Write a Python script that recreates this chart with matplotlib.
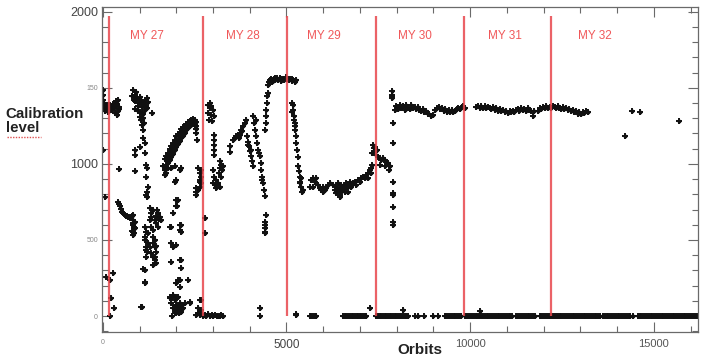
import matplotlib
matplotlib.use("Agg")
import matplotlib.pyplot as plt
import numpy as np
from matplotlib.ticker import MultipleLocator
from matplotlib.lines import Line2D

plt.rcParams['font.family'] = ['Liberation Sans', 'DejaVu Sans']

# ---------------- data (orbit, calibration level) ----------------
# MY27 start cluster
a_orb = [0, 10, 20, 30, 40, 60, 80, 100, 120, 140, 150, 170, 190, 210, 230, 250, 270, 290, 310, 330,
         350, 370, 390, 410, 430, 450, 60, 150, 260, 330, 400, 420,
         0, 60, 100, 190, 272, 236, 300, 190]
a_lvl = [1487, 1452, 1420, 1395, 1372, 1380, 1365, 1390, 1372, 1385, 1360, 1378, 1370, 1388, 1362, 1375,
         1380, 1392, 1368, 1400, 1385, 1412, 1395, 1420, 1375, 1360, 1350, 1340, 1355, 1335, 1322, 1345,
         1092, 785, 258, 237, 283, 118, 53, 0]

# MY27 high cluster (~orbit 800-1250)
b_orb = [800, 816, 843, 870, 880, 900, 930, 952, 980, 1006, 1030, 1061, 1088, 1115, 1140, 1170, 1197, 1224,
         870, 950, 1000, 1061, 1006, 1088, 1115, 1061, 1197, 1150, 1100, 1040, 1061, 1351,
         1097, 1097, 1142, 1025, 870, 870, 1161, 1188, 1206, 870, 1188, 444, 1224, 1197, 1210, 1188]
b_lvl = [1445, 1487, 1421, 1454, 1414, 1470, 1430, 1382, 1400, 1441, 1420, 1408, 1395, 1388, 1410, 1380, 1434, 1408,
         1360, 1350, 1340, 1375, 1310, 1303, 1270, 1336, 1370, 1355, 1330, 1290, 1257, 1334,
         1224, 1169, 1136, 1114, 1092, 1060, 1070, 994, 972, 950, 917, 965, 849, 816, 783, 796]

# MY27 low descending group (~700 -> 550)
c_orb = [408, 435, 462, 490, 517, 545, 570, 600, 630, 653, 680, 707, 734, 760, 790, 816, 816, 816, 840,
         800, 816, 870, 870, 830, 850, 825]
c_lvl = [750, 737, 720, 705, 684, 678, 671, 662, 660, 658, 654, 651, 645, 650, 655, 665, 632, 612, 586,
         560, 533, 620, 580, 600, 545, 555]

# MY27 scattered group (~orbit 1050-1600)
d_orb = [1279, 1369, 1505, 1551, 1596, 1324, 1279, 1415, 1460, 1324, 1369, 1505, 1233, 1142, 1233, 1279,
         1369, 1369, 1415, 1188, 1324, 1369, 1415, 1415, 1369, 1097, 1142, 1052, 1142, 1170, 1160, 1170,
         1197, 1170, 1414, 1440, 1450, 1414, 1440, 1142, 1142, 1061, 1460, 1530, 1480, 1300]
d_lvl = [709, 698, 676, 654, 632, 676, 632, 632, 610, 588, 566, 588, 544, 522, 478, 456,
         522, 478, 456, 435, 413, 391, 369, 347, 336, 307, 226, 62, 586, 553, 500, 454,
         421, 388, 500, 460, 421, 388, 349, 303, 217, 59, 660, 640, 700, 650]

# MY27 rising band (~orbit 1690-2560)
e_orb = [1687, 1732, 1778, 1823, 1868, 1914, 1959, 2004, 2050, 2095, 2140, 2186, 2231, 2277, 2322, 2367,
         2413, 2458, 2503]
e_up = [1029, 1051, 1073, 1095, 1116, 1138, 1160, 1182, 1198, 1212, 1228, 1240, 1252, 1264, 1273, 1282,
        1288, 1292, 1288]
e_mid = [994, 1016, 1038, 1060, 1081, 1103, 1125, 1147, 1163, 1180, 1198, 1213, 1228, 1242, 1253, 1264,
         1272, 1277, 1272]
e_low = [959, 981, 1003, 1025, 1046, 1068, 1090, 1112, 1128, 1148, 1168, 1186, 1204, 1220, 1233, 1246,
         1256, 1262, 1256]
e2_orb = [2549, 2549, 2567, 2530, 1687, 1778, 1732, 1868, 1959, 2095, 2004, 2140, 1700, 1650]
e2_lvl = [1246, 1202, 1158, 1230, 961, 972, 939, 972, 983, 961, 895, 972, 930, 985]

# MY27 low scatter (~orbit 1820-2400)
f_orb = [1960, 2005, 2005, 1914, 1824, 2141, 2141, 1869, 1914, 2005, 1869, 2141, 2141, 2096, 2005, 2323,
         2050, 1869, 1960, 2005, 2096, 2186, 2050, 2141, 1960, 1914, 2096, 2232, 2386, 1896, 1824, 1914,
         2005, 2050, 2022, 1868, 2095, 2095, 2004, 2367, 2095, 2050, 2095, 1841, 1868, 1959, 2050, 2120,
         2160, 2000, 2070]
f_lvl = [884, 763, 720, 676, 588, 599, 555, 478, 456, 467, 358, 369, 314, 237, 215, 237,
         127, 116, 105, 73, 62, 51, 40, 29, 29, 51, 84, 84, 84, 0, 116, 138,
         123, 764, 720, 588, 599, 566, 18, 95, 193, 237, 369, 127, 84, 62, 62, 40,
         70, 45, 20]

# around MY28 boundary
g_orb = [2531, 2531, 2640, 2685, 2685, 2640, 2594, 2640, 2640, 2640, 2549, 2594, 2776, 2794, 2595, 2685,
         2640, 2685, 2685,
         2550, 2600, 2640, 2690, 2730, 2780, 2820, 2870, 2910, 2960, 3000, 3050, 3100, 3140, 3190, 3230, 3275]
g_lvl = [840, 796, 884, 873, 105, 29, 972, 939, 895, 851, 818, 829, 647, 544, 51, 40,
         106, 961, 917,
         10, 20, 5, 15, 0, 8, 0, 12, 0, 5, 0, 8, 0, 3, 0, 5, 0]

# MY28
h_orb = [2865, 2910, 2955, 3001, 2865, 2955, 3019, 2892, 2983, 2910,
         3019, 3019, 3019, 3019, 3019, 3001, 3019, 3001,
         3182, 3228, 3273, 3182, 3255, 3164, 3228, 3092, 3137, 3182, 3092, 3046,
         3454, 3454,
         3545, 3590, 3636, 3681, 3726, 3772, 3817, 3862, 3908, 3745, 3799, 3708,
         3926, 3953, 3980, 3999, 4044, 4071, 4089, 4044, 3953,
         4089, 4116, 4135, 4162, 4198, 4225, 4271, 4298, 4316, 4343, 4361, 4379, 4407, 4180, 4252, 4325,
         4452, 4407, 4425, 4407, 4425, 4407,
         4407, 4434, 4452, 4452, 4470, 4479, 4497,
         4271, 4271, 5268]
h_lvl = [1389, 1367, 1378, 1356, 1334, 1323, 1312, 1290, 1279, 1400,
         1191, 1158, 1126, 1093, 1060, 961, 917, 873,
         1016, 994, 983, 972, 961, 939, 917, 895, 873, 851, 840, 862,
         1115, 1075,
         1158, 1169, 1180, 1191, 1202, 1224, 1246, 1268, 1290, 1191, 1213, 1169,
         1180, 1147, 1115, 1082, 1049, 1016, 983, 1093, 1126,
         1312, 1268, 1224, 1180, 1137, 1093, 1049, 1005, 961, 917, 873, 830, 786, 1290, 1071, 895,
         665, 621, 599, 577, 555, 544,
         1224, 1268, 1312, 1356, 1400, 1444, 1465,
         51, 0, 14]

# MY28 plateau
p_orb = [4490, 4520, 4555, 4590, 4625, 4660, 4700, 4740, 4780, 4820, 4860, 4900, 4940, 4980, 5020, 5060,
         5100, 5140, 5180, 5220, 5260, 4600, 4700, 4850, 5000, 5150]
p_lvl = [1520, 1540, 1548, 1556, 1545, 1560, 1552, 1562, 1550, 1565, 1555, 1560, 1550, 1562, 1556, 1548,
         1558, 1545, 1552, 1540, 1548, 1535, 1565, 1545, 1568, 1560]

# MY29
k_orb = [5177, 5177, 5195, 5222, 5240, 5267, 5267, 5286, 5313, 5195, 5222, 5140, 5150,
         5313, 5340, 5358, 5376, 5404, 5431, 5358, 5449, 5404,
         5630, 5676, 5721, 5766, 5812, 5857, 5902, 5948, 5993, 6038, 6084, 6129, 6174, 5721, 5993,
         6265, 6310, 6356, 6356, 6401, 6401, 6446, 6446, 6492, 6492, 6537, 6537, 6582, 6582, 6628, 6628,
         6673, 6673, 6719, 6719, 6764, 6809, 6855, 6900, 6446, 6356,
         6945, 6991, 7036, 7081, 7127, 7172, 7218, 7263, 7308, 7335, 7308, 7218,
         7354, 7372, 7399, 7426, 7335, 7462, 7399,
         7490, 7535, 7580, 7626, 7671, 7716, 7762, 7807, 7535, 7789, 7671,
         7900, 7900, 7900, 7900, 7900, 7900, 7900, 7900,
         7860, 7860, 7870, 7870]
k_lvl = [1388, 1355, 1312, 1268, 1224, 1180, 1136, 1092, 1048, 1290, 1246, 1400, 1340,
         983, 950, 917, 884, 851, 818, 873, 829, 906,
         851, 895, 906, 884, 906, 862, 840, 829, 851, 829, 840, 862, 873, 851, 818,
         862, 829, 851, 807, 873, 829, 840, 796, 862, 818, 851, 829, 862, 818, 840, 873,
         851, 818, 862, 884, 851, 873, 884, 862, 785, 829,
         895, 884, 906, 917, 906, 928, 939, 961, 972, 994, 939, 906,
         1125, 1103, 1081, 1059, 1070, 1092, 1114,
         1048, 1037, 1026, 1037, 1026, 1015, 1005, 983, 994, 961, 983,
         1270, 1138, 882, 809, 796, 717, 619, 599,
         1480, 1455, 1430, 1445]

# MY30-MY32 plateau
q_orb = [7945, 7990, 8035, 8080, 8125, 8170, 8215, 8260, 8305, 8350, 8395, 8440, 8485, 8530, 8575, 8620,
         8665, 8710, 8755, 8800, 8845, 8890, 8935, 8980,
         9050, 9095, 9140, 9185, 9230, 9275, 9320, 9365, 9410, 9455, 9500, 9545, 9590, 9635, 9680, 9725,
         9770, 9815, 9850]
q_lvl = [1352, 1378, 1360, 1385, 1368, 1380, 1356, 1384, 1370, 1362, 1386, 1366, 1377, 1358, 1372, 1355,
         1346, 1360, 1338, 1345, 1325, 1330, 1312, 1318,
         1352, 1366, 1372, 1358, 1368, 1348, 1360, 1340, 1352, 1344, 1356, 1338, 1350, 1362, 1366, 1358,
         1372, 1378, 1370]
r_orb = [10170, 10215, 10260, 10305, 10350, 10395, 10440, 10485, 10530, 10575, 10620, 10665, 10710, 10755,
         10800, 10845, 10890, 10935, 10980, 11025, 11070, 11115, 11160, 11205, 11250, 11295, 11340, 11385,
         11430, 11475, 11520, 11565, 11610, 11655, 11705, 11750]
r_lvl = [1372, 1380, 1366, 1378, 1370, 1382, 1364, 1375, 1368, 1360, 1372, 1356, 1365, 1350,
         1360, 1345, 1352, 1338, 1348, 1334, 1345, 1338, 1350, 1342, 1355, 1362, 1350, 1366,
         1356, 1360, 1348, 1364, 1352, 1345, 1312, 1350]
s_orb = [11845, 11890, 11935, 11980, 12025, 12070, 12115, 12160, 12205, 12250, 12295, 12340, 12385, 12430,
         12475, 12520, 12565, 12610, 12655, 12700, 12745, 12790, 12835, 12880, 12925, 12970, 13015, 13060,
         13105, 13150, 13200,
         14200, 14410, 14610, 15695]
s_lvl = [1350, 1368, 1360, 1375, 1365, 1380, 1370, 1376, 1364, 1382, 1372, 1366, 1378, 1370,
         1362, 1374, 1360, 1368, 1352, 1362, 1345, 1355, 1338, 1348, 1330, 1342, 1326, 1340,
         1332, 1345, 1338,
         1184, 1349, 1342, 1285]

# zero-level (failed calibration) orbits
zero_orb = [5630, 5680, 5720, 5770, 5812,
            6530, 6580, 6630, 6680, 6720, 6770, 6820, 6860, 6910, 6950, 7000, 7040, 7090, 7130, 7170,
            7450, 7495, 7540, 7585, 7630, 7675, 7720, 7765, 7810, 7855, 7900, 7945, 7990, 8035, 8080,
            8125, 8170, 8215, 8260, 8300,
            8487, 8577, 8731, 8986, 9122,
            9303, 9350, 9400, 9450, 9500, 9550, 9600, 9650, 9700, 9757,
            9847, 9895, 9945, 9995, 10045, 10095, 10145, 10195, 10245, 10295, 10345, 10395, 10445, 10495,
            10545, 10595, 10645, 10695, 10745, 10795, 10845, 10895, 10945, 10995, 11045, 11095, 11145,
            11260, 11310, 11360, 11410, 11460, 11510, 11560, 11610, 11660, 11705, 11752,
            11888, 11935, 11985, 12035, 12085, 12135, 12185, 12235, 12285, 12335, 12385, 12435, 12485,
            12535, 12585, 12635, 12685, 12735, 12785, 12835, 12885, 12935, 12985, 13035, 13085, 13135,
            13185, 13235, 13285, 13335, 13385, 13435, 13485, 13521,
            13611, 13660, 13710, 13760, 13810, 13860, 13910, 13960, 14010, 14060, 14110, 14160, 14210,
            14260, 14310, 14360, 14428,
            14564, 14610, 14660, 14710, 14760, 14810, 14860, 14910, 14960, 15010, 15060, 15110, 15160,
            15210, 15260, 15310, 15360, 15410, 15460, 15510, 15560, 15610, 15660, 15710, 15760, 15810,
            15860, 15910, 15960, 16010, 16060, 16110, 16160]
small_orb = [7263, 8169, 10255, 5268]
small_lvl = [55, 39, 36, 10]

# Mars-year boundaries
my_orbit = [172, 2729, 5023, 7425, 9828, 12194]
my_label = ["MY 27", "MY 28", "MY 29", "MY 30", "MY 31", "MY 32"]
my_label_orbit = [1210, 3808, 6011, 8486, 10934, 13382]

# ---------------- plot ----------------
fig = plt.figure(figsize=(7.11, 3.58), dpi=100)
ax = fig.add_axes([0.1435, 0.0726, 0.8382, 0.9074])

xs = (a_orb + b_orb + c_orb + d_orb + e_orb + [o + 22 for o in e_orb] + e_orb + e2_orb + f_orb + g_orb +
      h_orb + p_orb + k_orb + q_orb + r_orb + s_orb + zero_orb + small_orb)
ys = (a_lvl + b_lvl + c_lvl + d_lvl + e_up + e_mid + e_low + e2_lvl + f_lvl + g_lvl +
      h_lvl + p_lvl + k_lvl + q_lvl + r_lvl + s_lvl + [0] * len(zero_orb) + small_lvl)
ax.plot(xs, ys, linestyle='none', marker='+', ms=4.6, mew=1.4, color='#111111', zorder=2)
ax.plot(xs, ys, linestyle='none', marker='o', ms=2.8, mew=0, color='#111111', zorder=2)

red = '#e8474c'
ax.vlines(my_orbit, 0, 1975, colors=red, lw=1.6, alpha=0.85, zorder=3)
for xo, lab in zip(my_label_orbit, my_label):
    ax.text(xo, 1842, lab, color='#f0585a', fontsize=8.5, ha='center', va='center', zorder=4)

ax.set_xlim(-20, 16200)
ax.set_ylim(-105, 2030)

for sp in ax.spines.values():
    sp.set_color('#6a6a6a')
    sp.set_linewidth(0.9)

ax.xaxis.set_major_locator(MultipleLocator(5000))
ax.xaxis.set_minor_locator(MultipleLocator(1000))
ax.yaxis.set_major_locator(MultipleLocator(500))
ax.yaxis.set_minor_locator(MultipleLocator(100))
ax.tick_params(which='both', direction='in', top=True, right=True, color='#6a6a6a', width=0.8)
ax.tick_params(which='major', length=7)
ax.tick_params(which='minor', length=4)
ax.tick_params(axis='y', pad=3)
ax.tick_params(axis='x', pad=5)

ax.set_yticks([0, 500, 1000, 1500, 2000])
ax.set_yticklabels(['0', '500', '1000', '150', '2000'])
ysizes = [5, 5, 9, 5, 9]
ycols = ['#888888', '#888888', '#444444', '#888888', '#444444']
for lab, s, c in zip(ax.get_yticklabels(), ysizes, ycols):
    lab.set_fontsize(s)
    lab.set_color(c)

ax.set_xticks([0, 5000, 10000, 15000])
ax.set_xticklabels(['0', '5000', '10000', '15000'])
xsizes = [5, 8.5, 8, 8]
xcols = ['#888888', '#444444', '#555555', '#555555']
for lab, s, c in zip(ax.get_xticklabels(), xsizes, xcols):
    lab.set_fontsize(s)
    lab.set_color(c)

fig.text(0.008, 0.661, "Calibration\nlevel", fontsize=10.8, fontweight='bold', color='#222222',
         ha='left', va='center', linespacing=1.0)
fig.text(0.591, 0.022, "Orbits", fontsize=11, fontweight='bold', color='#222222',
         ha='center', va='center')
fig.add_artist(Line2D([0.010, 0.058], [0.616, 0.616], transform=fig.transFigure,
                      color='#e05050', lw=1.0, linestyle=(0, (1, 1))))

fig.savefig('out.png', dpi=100)
